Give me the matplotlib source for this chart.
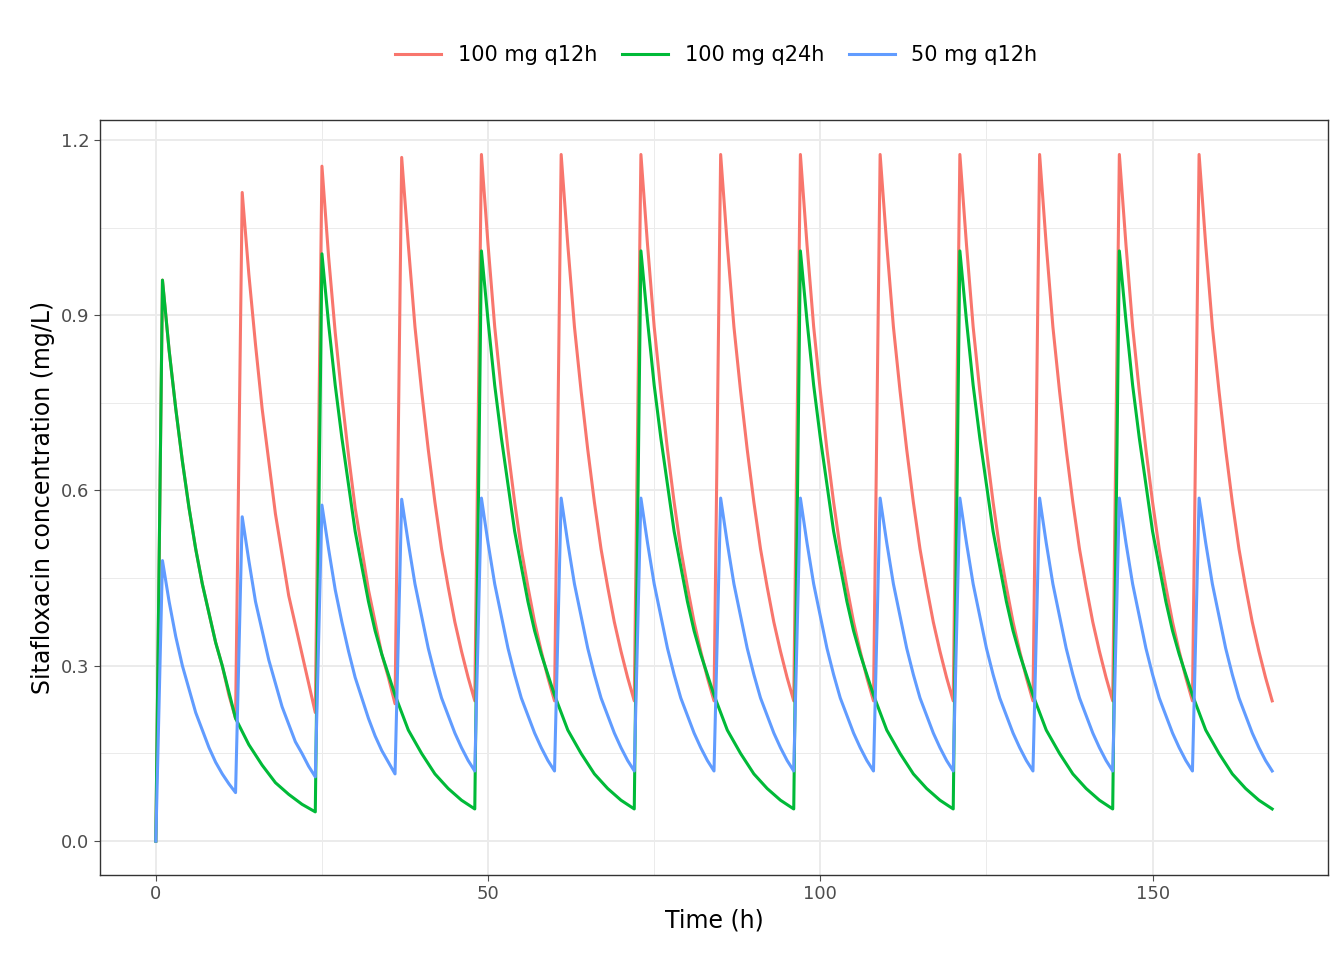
import matplotlib
matplotlib.use("Agg")
import matplotlib.pyplot as plt

# Dose times (h)
starts_q12 = [0, 12, 24, 36, 48, 60, 72, 84, 96, 108, 120, 132, 144, 156]
starts_q24 = [0, 24, 48, 72, 96, 120, 144]
offsets_q12 = [0, 1, 2, 3, 4, 5, 6, 7, 8, 9, 10, 11]
offsets_q24 = [0, 1, 2, 3, 4, 5, 6, 7, 8, 9, 10, 12, 14, 16, 18, 20, 22]
end_time = 168

# Concentrations (mg/L), one row per dosing interval
red_steady = [0.24, 1.175, 1.02, 0.88, 0.77, 0.67, 0.58, 0.50, 0.435, 0.375, 0.325, 0.28]
red_cycles = [
    [0.0, 0.96, 0.84, 0.74, 0.65, 0.57, 0.50, 0.44, 0.39, 0.34, 0.30, 0.25],
    [0.21, 1.11, 0.97, 0.85, 0.74, 0.65, 0.56, 0.49, 0.42, 0.37, 0.32, 0.27],
    [0.22, 1.155, 1.00, 0.87, 0.76, 0.66, 0.57, 0.50, 0.43, 0.375, 0.32, 0.28],
    [0.235, 1.17, 1.02, 0.88, 0.77, 0.67, 0.58, 0.50, 0.435, 0.375, 0.325, 0.28],
] + [red_steady] * 10
red_end = 0.24

green_steady = [0.055, 1.01, 0.89, 0.78, 0.69, 0.61, 0.53, 0.47, 0.41, 0.36, 0.32,
                0.25, 0.19, 0.15, 0.115, 0.09, 0.07]
green_cycles = [
    [0.0, 0.96, 0.84, 0.74, 0.65, 0.57, 0.50, 0.44, 0.39, 0.34, 0.30,
     0.21, 0.165, 0.13, 0.10, 0.08, 0.063],
    [0.05, 1.005, 0.885, 0.78, 0.69, 0.61, 0.53, 0.47, 0.41, 0.36, 0.32,
     0.25, 0.19, 0.15, 0.115, 0.09, 0.07],
] + [green_steady] * 5
green_end = 0.055

blue_steady = [0.12, 0.587, 0.51, 0.44, 0.385, 0.33, 0.285, 0.245, 0.215, 0.185, 0.16, 0.138]
blue_cycles = [
    [0.0, 0.48, 0.41, 0.35, 0.30, 0.26, 0.22, 0.19, 0.16, 0.135, 0.115, 0.098],
    [0.083, 0.555, 0.48, 0.41, 0.36, 0.31, 0.27, 0.23, 0.20, 0.17, 0.15, 0.128],
    [0.11, 0.575, 0.50, 0.43, 0.375, 0.325, 0.28, 0.245, 0.21, 0.18, 0.155, 0.135],
    [0.115, 0.585, 0.51, 0.44, 0.385, 0.33, 0.285, 0.245, 0.215, 0.185, 0.16, 0.138],
] + [blue_steady] * 10
blue_end = 0.12

labels = ["100 mg q12h", "100 mg q24h", "50 mg q12h"]
colors = ["#F8766D", "#00BA38", "#619CFF"]


def build(starts, offsets, cycles, end_val):
    t, c = [], []
    for s, row in zip(starts, cycles):
        for o, v in zip(offsets, row):
            t.append(s + o)
            c.append(v)
    t.append(end_time)
    c.append(end_val)
    return t, c


series = [
    build(starts_q12, offsets_q12, red_cycles, red_end),
    build(starts_q24, offsets_q24, green_cycles, green_end),
    build(starts_q12, offsets_q12, blue_cycles, blue_end),
]

fig = plt.figure(figsize=(13.44, 9.6), dpi=100)
ax = fig.add_axes([100 / 1344, 85 / 960, 1228 / 1344, 755 / 960])
for (t, c), lab, col in zip(series, labels, colors):
    ax.plot(t, c, color=col, lw=2.2, label=lab, solid_joinstyle="round")

ax.set_xlim(-8.4, 176.4)
ax.set_ylim(-0.058, 1.234)
ax.set_xticks([0, 50, 100, 150])
ax.set_yticks([0.0, 0.3, 0.6, 0.9, 1.2])
ax.set_yticklabels(["0.0", "0.3", "0.6", "0.9", "1.2"])
ax.set_xticks([25, 75, 125], minor=True)
ax.set_yticks([0.15, 0.45, 0.75, 1.05], minor=True)
ax.grid(True, which="major", color="#EBEBEB", lw=1.4)
ax.grid(True, which="minor", color="#EBEBEB", lw=0.7)
ax.set_axisbelow(True)
ax.tick_params(which="major", labelsize=13, colors="#4D4D4D", length=4)
ax.tick_params(which="minor", length=0)
for sp in ax.spines.values():
    sp.set_color("#333333")
    sp.set_linewidth(1.0)
ax.set_xlabel("Time (h)", fontsize=17)
ax.set_ylabel("Sitafloxacin concentration (mg/L)", fontsize=17)
fig.legend(loc="center", bbox_to_anchor=(0.533, 905 / 960), ncol=3,
           frameon=False, fontsize=15, handlelength=2.2, columnspacing=1.2)
fig.savefig("out.png", dpi=100)
